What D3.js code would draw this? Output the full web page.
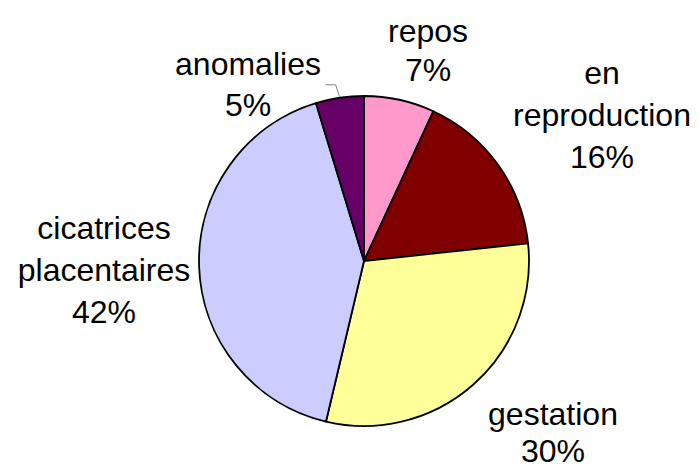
<!DOCTYPE html>
<html>
<head>
<meta charset="utf-8">
<script src="https://cdn.jsdelivr.net/npm/d3@7"></script>
<style>
  html, body { margin: 0; padding: 0; background: #fff; }
  svg { display: block; }
  text { font-family: "Liberation Sans", Arial, sans-serif; font-size: 32px; fill: #000; }
</style>
</head>
<body>
<svg id="chart" width="699" height="470"></svg>
<script>
const categories = ["repos", "en reproduction", "gestation", "cicatrices placentaires", "anomalies"];
const values = [6.9, 16.4, 30.4, 41.6, 4.7];
const colors = ["#FF99CC", "#800000", "#FFFF99", "#CCCCFF", "#660066"];
// label lines (text) per category
const labelLines = [["repos"], ["en", "reproduction"], ["gestation"], ["cicatrices", "placentaires"], ["anomalies"]];
// label anchor (center x, first baseline y) per category
const labelPos = [[428, 42], [602, 84], [553, 425], [104, 239], [248, 75]];
const labelGap = [39, 42, 37, 42, 41];

const svg = d3.select("#chart");
const cx = 364, cy = 261, r = 165;

const data = categories.map((c, i) => ({ name: c, value: values[i], color: colors[i], i }));
const pie = d3.pie().sort(null).value(d => d.value);
const arcs = pie(data);
const arc = d3.arc().innerRadius(0).outerRadius(r);

const g = svg.append("g").attr("transform", `translate(${cx},${cy})`);
g.selectAll("path").data(arcs).join("path")
  .attr("d", arc)
  .attr("fill", d => d.data.color)
  .attr("stroke", "#000")
  .attr("stroke-width", 1.8)
  .attr("stroke-linejoin", "round");

// leader line for anomalies
const an = arcs[4];
const mid = (an.startAngle + an.endAngle) / 2;
const p0 = [cx + (r + 1) * Math.sin(mid), cy - (r + 1) * Math.cos(mid)];
const p1 = [p0[0] - 4, p0[1] - 12];
const p2 = [p1[0] - 10, p1[1]];
svg.append("polyline")
  .attr("points", [p0, p1, p2].map(p => p.join(",")).join(" "))
  .attr("fill", "none")
  .attr("stroke", "#808080")
  .attr("stroke-width", 1);

// labels
arcs.forEach((a, i) => {
  const lines = labelLines[i].concat([Math.round(values[i]) + "%"]);
  const t = svg.append("text")
    .attr("text-anchor", "middle");
  lines.forEach((ln, k) => {
    t.append("tspan")
      .attr("x", labelPos[i][0])
      .attr("y", labelPos[i][1] + k * labelGap[i])
      .text(ln);
  });
});
</script>
</body>
</html>
